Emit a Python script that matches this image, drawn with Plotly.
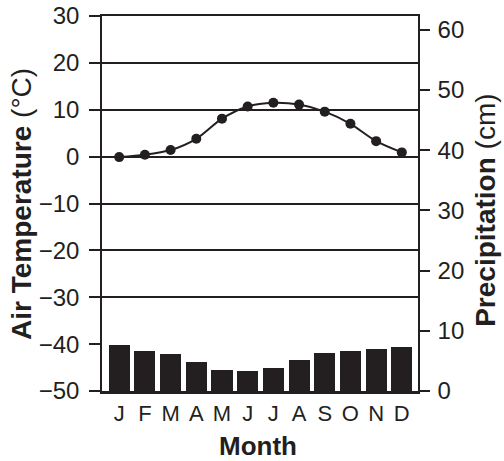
import plotly.graph_objects as go

months = ["J", "F", "M", "A", "M", "J", "J", "A", "S", "O", "N", "D"]
temperature = [-0.1, 0.4, 1.4, 3.8, 8.1, 10.7, 11.5, 11.1, 9.6, 7.0, 3.3, 0.9]
precipitation = [7.6, 6.6, 6.1, 4.8, 3.5, 3.3, 3.8, 5.1, 6.3, 6.6, 7.0, 7.3]
temp_ticks = [30, 20, 10, 0, -10, -20, -30, -40, -50]
temp_tick_text = ["30", "20", "10", "0", "\u221210", "\u221220", "\u221230", "\u221240", "\u221250"]
precip_ticks = [0, 10, 20, 30, 40, 50, 60]
grid_vals = [20, 10, 0, -10, -20, -30]

x = list(range(len(months)))
ink = "#231f20"
font = "Liberation Sans, Arial, Helvetica, sans-serif"
xr = [-0.67, 11.63]

fig = go.Figure()
fig.add_trace(go.Bar(x=x, y=precipitation, yaxis="y2", marker=dict(color=ink, line=dict(width=0)),
                     width=0.82, showlegend=False))
fig.add_trace(go.Scatter(x=x, y=temperature, yaxis="y", mode="lines+markers",
                         line=dict(color=ink, width=2, shape="spline", smoothing=0.8),
                         marker=dict(color=ink, size=10), showlegend=False))
fig.add_trace(go.Scatter(x=[None], y=[None], xaxis="x2", yaxis="y3", showlegend=False, hoverinfo="skip"))

fig.update_layout(
    width=504, height=461,
    margin=dict(l=102, r=86, t=16, b=70),
    plot_bgcolor="white", paper_bgcolor="white",
    font=dict(family=font, color=ink, size=23),
    bargap=0,
    xaxis=dict(
        range=xr, tickvals=x, ticktext=months, showgrid=False, automargin=False,
        showline=True, linecolor=ink, linewidth=2.5, mirror=False,
        ticks="", tickfont=dict(size=22, color=ink), zeroline=False,
        ticklabelstandoff=1,
    ),
    xaxis2=dict(overlaying="x", range=xr, side="top", showline=True, automargin=False,
                linecolor=ink, linewidth=1.5, showticklabels=False, showgrid=False,
                ticks="", zeroline=False),
    yaxis=dict(
        range=[-50, 30], tickvals=temp_ticks, ticktext=temp_tick_text, automargin=False,
        showgrid=False, zeroline=False,
        showline=True, linecolor=ink, linewidth=1.5,
        ticks="outside", ticklen=11, tickwidth=1.5, tickcolor=ink,
        tickfont=dict(size=24, color=ink), ticklabelstandoff=5,
    ),
    yaxis2=dict(
        range=[0, 62.3], tickvals=precip_ticks, overlaying="y", side="right", automargin=False,
        showgrid=False, zeroline=False,
        showline=True, linecolor=ink, linewidth=1.5,
        ticks="outside", ticklen=10, tickwidth=1.5, tickcolor=ink,
        tickfont=dict(size=24, color=ink), ticklabelstandoff=3,
    ),
    yaxis3=dict(
        range=[-50, 30], tickvals=grid_vals, overlaying="y", showticklabels=False, automargin=False,
        showgrid=True, gridcolor=ink, gridwidth=1.5, zeroline=False, showline=False,
        layer="below traces",
    ),
    annotations=[
        dict(text="<b>Air Temperature</b> (\u00b0C)", xref="paper", yref="paper",
             x=-0.253, y=0.499, textangle=-90, showarrow=False,
             font=dict(size=28, color=ink), xanchor="center", yanchor="middle"),
        dict(text="<b>Precipitation</b> (cm)", xref="paper", yref="paper",
             x=1.215, y=0.483, textangle=-90, showarrow=False,
             font=dict(size=28, color=ink), xanchor="center", yanchor="middle"),
        dict(text="<b>Month</b>", xref="paper", yref="paper",
             x=0.494, y=-0.1467, showarrow=False,
             font=dict(size=26, color=ink), xanchor="center", yanchor="middle"),
    ],
)
fig.write_html("out.html", config={"displayModeBar": False},
               post_script="document.body.style.margin='0';document.body.style.overflow='hidden';")
